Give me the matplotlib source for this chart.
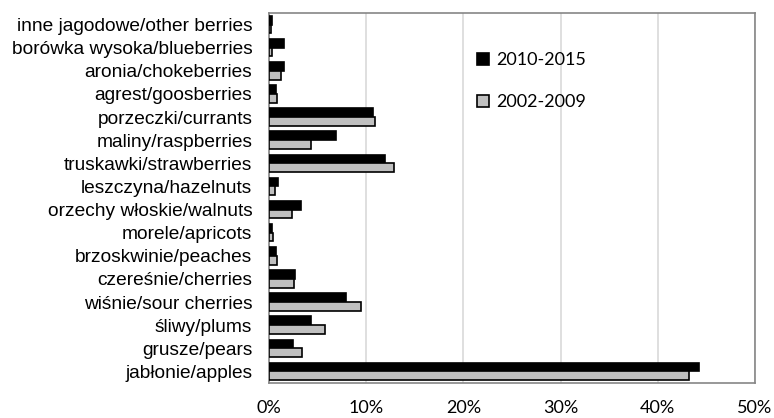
import numpy as np
import matplotlib
matplotlib.use("Agg")
from matplotlib import pyplot as plt
from matplotlib.ticker import FuncFormatter

# categories listed bottom -> top (as in the chart)
categories = ["jabłonie/apples", "grusze/pears", "śliwy/plums", "wiśnie/sour cherries",
              "czereśnie/cherries", "brzoskwinie/peaches", "morele/apricots",
              "orzechy włoskie/walnuts", "leszczyna/hazelnuts", "truskawki/strawberries",
              "maliny/raspberries", "porzeczki/currants", "agrest/goosberries",
              "aronia/chokeberries", "borówka wysoka/blueberries", "inne jagodowe/other berries"]
share_2010_2015 = [44.2, 2.5, 4.3, 7.9, 2.7, 0.7, 0.3, 3.3, 0.9, 11.9, 6.9, 10.7, 0.7, 1.5, 1.55, 0.3]
share_2002_2009 = [43.2, 3.4, 5.8, 9.5, 2.6, 0.85, 0.4, 2.4, 0.6, 12.9, 4.3, 10.9, 0.8, 1.25, 0.35, 0.2]
x_ticks = [0, 10, 20, 30, 40, 50]

fig = plt.figure(figsize=(7.74, 4.18), dpi=100)
ax = fig.add_axes([269/774, 1-383/418, (755-269)/774, (383-13)/418])

y = np.arange(len(categories))
h = 0.38
ax.barh(y + h/2, share_2010_2015, height=h, color="black", edgecolor="black", lw=1.2, label="2010-2015", zorder=3)
ax.barh(y - h/2, share_2002_2009, height=h, color="#c0c0c0", edgecolor="black", lw=1.2, label="2002-2009", zorder=3)

ax.set_ylim(-0.5, len(categories)-0.5)
ax.set_xlim(0, 50)
ax.set_xticks(x_ticks)
ax.xaxis.set_major_formatter(FuncFormatter(lambda v, p: "%d%%" % v))
ax.set_yticks(y)
ax.set_yticklabels(categories, fontsize=13.8, family=["Liberation Sans", "DejaVu Sans"])
ax.tick_params(axis="y", length=0, pad=12)
ax.tick_params(axis="x", length=0, pad=12, labelsize=13)
for t in ax.get_xticklabels():
    t.set_family("Lato")
ax.grid(axis="x", color="#d9d9d9", lw=1.2, zorder=0)
for s in ax.spines.values():
    s.set_color("#868686")
    s.set_linewidth(1.2)

leg = fig.legend(loc="upper left", bbox_to_anchor=(461/774, 1-36/418), frameon=False,
                 handlelength=0.65, handleheight=0.65, handletextpad=0.4, labelspacing=1.45,
                 prop={"family": "Lato", "size": 13})

fig.savefig("out.png", dpi=100)
